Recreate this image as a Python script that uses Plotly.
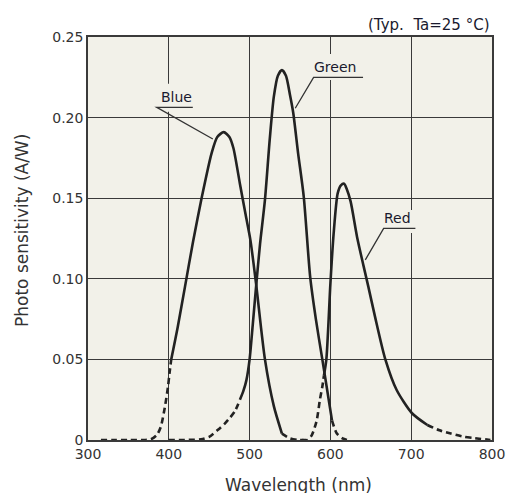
import plotly.graph_objects as go

# ---- data ----
blue_nm = [316, 330, 350, 370, 378, 385, 390, 395, 399, 401, 403, 411, 420, 430, 441, 453, 460, 468, 475, 480, 488, 495, 501, 508, 519, 530, 540, 550, 560, 572]
blue_val = [0, 0, 0, 0, 0.0005, 0.003, 0.008, 0.02, 0.033, 0.042, 0.05, 0.07, 0.095, 0.123, 0.151, 0.178, 0.188, 0.191, 0.188, 0.181, 0.159, 0.14, 0.124, 0.097, 0.05, 0.021, 0.004, 0.001, 0, 0]
blue_solid = (403, 540)

green_nm = [400, 420, 440, 450, 460, 469, 476, 482, 488, 492, 496, 500, 504, 508, 513, 519, 525, 530, 535, 540, 545, 550, 554, 560, 567, 575, 582, 590, 596, 602, 608, 615, 621]
green_val = [0, 0, 0.0005, 0.002, 0.006, 0.010, 0.014, 0.018, 0.025, 0.03, 0.037, 0.05, 0.072, 0.095, 0.122, 0.149, 0.187, 0.213, 0.226, 0.2295, 0.226, 0.214, 0.203, 0.178, 0.151, 0.101, 0.075, 0.05, 0.031, 0.012, 0.004, 0.001, 0]
green_solid = (488, 602)

red_nm = [565, 572, 577, 583, 587, 590, 592, 595, 600, 604, 609, 613, 617, 620, 625, 633, 641, 647, 655, 668, 682, 701, 720, 735, 749, 765, 777, 798]
red_val = [0, 0, 0.003, 0.012, 0.025, 0.033, 0.04, 0.05, 0.097, 0.128, 0.153, 0.158, 0.159, 0.156, 0.148, 0.126, 0.108, 0.095, 0.077, 0.05, 0.031, 0.0166, 0.0093, 0.006, 0.004, 0.002, 0.0012, 0]
red_solid = (592, 720)

x_ticks = [300, 400, 500, 600, 700, 800]
x_ticktext = ["300", "400", "500", "600", "700", "800"]
y_ticks = [0, 0.05, 0.10, 0.15, 0.20, 0.25]
y_ticktext = ["0", "0.05", "0.10", "0.15", "0.20", "0.25"]

# label: text, text position, underline (x0, x1, y), leader end (x, y), box (x0, x1, y0, y1)
labels = [
    ("Blue", (409.9, 0.2125), (385.1, 429.7, 0.2064), (454.5, 0.1867), (385, 430, 0.2037, 0.221)),
    ("Green", (606.0, 0.2316), (579.2, 640.4, 0.2250), (556.5, 0.2058), (579, 640, 0.2233, 0.2395)),
    ("Red", (682.5, 0.1375), (665.9, 705.2, 0.1313), (643.2, 0.1117), (666, 705, 0.1284, 0.1427)),
]

PLOT_BG = "#F2F1E9"
INK = "#222222"
GRID = "#3a3a3a"
FONT = "DejaVu Sans"
TXT = "#333333"

fig = go.Figure()


def add_curve(nm, val, solid):
    s0, s1 = solid
    parts = [
        ([(x, y) for x, y in zip(nm, val) if x <= s0], "6px,4px"),
        ([(x, y) for x, y in zip(nm, val) if s0 <= x <= s1], "solid"),
        ([(x, y) for x, y in zip(nm, val) if x >= s1], "6px,4px"),
    ]
    for pts, dash in parts:
        if len(pts) < 2:
            continue
        fig.add_trace(go.Scatter(
            x=[p[0] for p in pts], y=[p[1] for p in pts], mode="lines",
            line=dict(color=INK, width=2.6, dash=dash, shape="spline", smoothing=0.7),
            showlegend=False, hoverinfo="skip",
        ))


add_curve(blue_nm, blue_val, blue_solid)
add_curve(green_nm, green_val, green_solid)
add_curve(red_nm, red_val, red_solid)

shapes = []
annotations = []
for text, (tx, ty), (ux0, ux1, uy), (lx, ly), (bx0, bx1, by0, by1) in labels:
    shapes.append(dict(type="rect", xref="x", yref="y", x0=bx0, x1=bx1, y0=by0, y1=by1,
                       fillcolor=PLOT_BG, line=dict(width=0), layer="above"))
    shapes.append(dict(type="path", xref="x", yref="y",
                       path=f"M {ux1},{uy} L {ux0},{uy} L {lx},{ly}",
                       line=dict(color="#333333", width=1.3), layer="above"))
    annotations.append(dict(x=tx, y=ty, xref="x", yref="y", text=text, showarrow=False,
                            xanchor="center", yanchor="middle",
                            font=dict(family=FONT, size=14, color="#1a1a2e")))

# condition note, axis titles (paper coordinates relative to plot area)
annotations.append(dict(x=1.0, y=1.03, xref="paper", yref="paper",
                        text="(Typ.  Ta=25 °C)", showarrow=False, xanchor="right", yanchor="middle",
                        font=dict(family=FONT, size=15, color="#1a1a2e")))
annotations.append(dict(x=0.522, y=-0.112, xref="paper", yref="paper",
                        text="Wavelength (nm)", showarrow=False, xanchor="center", yanchor="middle",
                        font=dict(family=FONT, size=17, color=TXT)))
annotations.append(dict(x=-0.163, y=0.519, xref="paper", yref="paper", textangle=-90,
                        text="Photo sensitivity (A/W)", showarrow=False, xanchor="center", yanchor="middle",
                        font=dict(family=FONT, size=17, color=TXT)))

fig.update_layout(
    width=506, height=493,
    margin=dict(l=88, r=14, t=37, b=53, autoexpand=False),
    paper_bgcolor="white",
    plot_bgcolor=PLOT_BG,
    font=dict(family=FONT, size=14, color=TXT),
    shapes=shapes,
    annotations=annotations,
)

fig.update_xaxes(
    range=[300, 800], tickvals=x_ticks, ticktext=x_ticktext, automargin=False,
    showgrid=True, gridcolor=GRID, gridwidth=1.3,
    showline=True, linecolor=GRID, linewidth=1.5, mirror=True,
    zeroline=False, ticks="", ticklen=0, tickfont=dict(size=14, color=TXT),
)
fig.update_yaxes(
    range=[0, 0.25], tickvals=y_ticks, ticktext=y_ticktext, automargin=False,
    showgrid=True, gridcolor=GRID, gridwidth=1.3,
    showline=True, linecolor=GRID, linewidth=1.5, mirror=True,
    zeroline=False, ticks="", ticklen=0, tickfont=dict(size=14, color=TXT),
)

# remove the default page margin so the 506x493 figure fills the window exactly
fig.write_html(
    "out.html",
    config={"displayModeBar": False},
    post_script="document.body.style.margin='0';document.body.style.overflow='hidden';",
)
